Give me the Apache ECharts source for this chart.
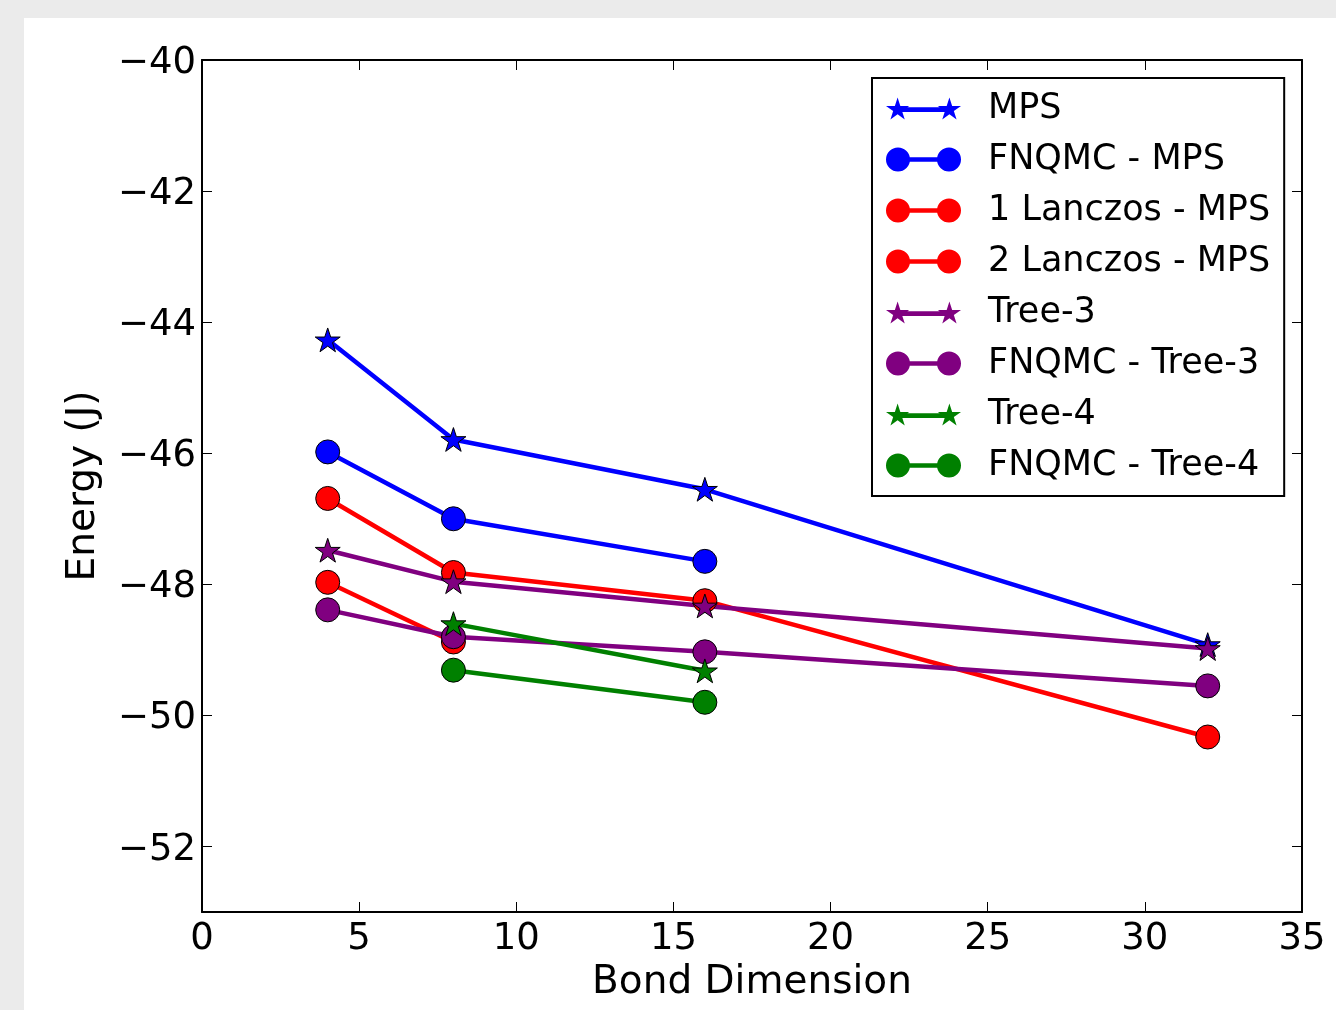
<!DOCTYPE html>
<html>
<head>
<meta charset="utf-8">
<script src="https://cdn.jsdelivr.net/npm/echarts@6/dist/echarts.min.js"></script>
<style>
html,body{margin:0;padding:0;background:#ebebeb;}
#chart{width:1336px;height:1010px;}
</style>
</head>
<body>
<div id="chart"></div>
<script>
// ---- data ----
const seriesNames = ['MPS','FNQMC - MPS','1 Lanczos - MPS','2 Lanczos - MPS','Tree-3','FNQMC - Tree-3','Tree-4','FNQMC - Tree-4'];
const mps          = [[4,-44.27],[8,-45.79],[16,-46.55],[32,-48.92]];
const fnqmcMps     = [[4,-45.98],[8,-47.00],[16,-47.65]];
const lanczos1Mps  = [[4,-46.69],[8,-47.82],[16,-48.25],[32,-50.33]];
const lanczos2Mps  = [[4,-47.97],[8,-48.88]];
const tree3        = [[4,-47.48],[8,-47.96],[16,-48.33],[32,-48.98]];
const fnqmcTree3   = [[4,-48.39],[8,-48.80],[16,-49.03],[32,-49.55]];
const tree4        = [[8,-48.60],[16,-49.32]];
const fnqmcTree4   = [[8,-49.31],[16,-49.80]];
const xTicks = [0,5,10,15,20,25,30,35];
const yTicks = [-52,-50,-48,-46,-44,-42,-40];

// ---- symbols ----
function starPts(cx, cy, R){
  const pts=[];
  for(let i=0;i<10;i++){
    const a=(-90+i*36)*Math.PI/180;
    const r = i%2===0 ? R : R*0.382;
    pts.push((cx+r*Math.cos(a)).toFixed(2)+','+(cy+r*Math.sin(a)).toFixed(2));
  }
  return 'M'+pts.join('L')+'Z';
}
const STAR = 'path://' + starPts(50,50,50);
const CIRCLE_ICON = 'path://M0,12A12,12,0,1,1,24,12A12,12,0,1,1,0,12Z M22,9.7L53,9.7L53,14.3L22,14.3Z M51,12A12,12,0,1,1,75,12A12,12,0,1,1,51,12Z';
const STAR_ICON = 'path://' + starPts(12,12,12) + ' M14,9.7L61,9.7L61,14.3L14,14.3Z ' + starPts(63,12,12);

const colors = ['#0000ff','#0000ff','#ff0000','#ff0000','#800080','#800080','#008000','#008000'];
const datas = [mps,fnqmcMps,lanczos1Mps,lanczos2Mps,tree3,fnqmcTree3,tree4,fnqmcTree4];
const isStar = [true,false,false,false,true,false,true,false];

const series = seriesNames.map((n,i)=>({
  name:n, type:'line', data:datas[i],
  xAxisIndex:0, yAxisIndex:0,
  symbol: isStar[i] ? STAR : 'circle',
  symbolSize: isStar[i] ? 25 : 24,
  symbolKeepAspect:true,
  showAllSymbol:true,
  lineStyle:{color:colors[i], width:4.5},
  itemStyle:{color:colors[i], borderColor:'#000', borderWidth:1},
  emphasis:{disabled:true},
  animation:false
}));

const fontFam = 'DejaVu Sans';
const minus = v => '{a|' + (v<0?'\u2212':'') + Math.abs(v) + '}';

const chart = echarts.init(document.getElementById('chart'));
chart.setOption({
  backgroundColor:'#ebebeb',
  animation:false,
  graphic:[{type:'rect', z:-10, silent:true, shape:{x:24,y:18,width:1320,height:1000}, style:{fill:'#ffffff'}}],
  textStyle:{fontFamily:fontFam},
  grid:{left:202, top:60, right:34, bottom:98, containLabel:false},
  legend:{
    orient:'vertical', left:872, top:78,
    data: seriesNames.map((n,i)=>({name:n, icon: isStar[i] ? STAR_ICON : CIRCLE_ICON})),
    itemWidth:75, itemHeight:24, itemGap:16,
    padding:[13,14,13,14],
    borderColor:'#000', borderWidth:2, borderRadius:0,
    backgroundColor:'#fff',
    itemStyle:{borderWidth:0},
    textStyle:{fontSize:35, color:'#000', fontFamily:fontFam, padding:[0,0,0,22]},
    selectedMode:false
  },
  xAxis:[{
    type:'value', min:0, max:35, interval:5, position:'bottom',
    name:'Bond Dimension', nameLocation:'middle', nameGap:49,
    nameTextStyle:{fontSize:39, color:'#000', fontFamily:fontFam},
    axisLine:{show:true, onZero:false, lineStyle:{color:'#000', width:2}},
    axisTick:{show:true, inside:true, length:10, lineStyle:{color:'#000', width:1}},
    axisLabel:{fontSize:37, color:'#000', margin:9, fontFamily:fontFam},
    splitLine:{show:false}
  },{
    type:'value', min:0, max:35, interval:5, position:'top',
    axisLine:{show:true, onZero:false, lineStyle:{color:'#000', width:2}},
    axisTick:{show:true, inside:true, length:10, lineStyle:{color:'#000', width:1}},
    axisLabel:{show:false}, splitLine:{show:false}
  }],
  yAxis:[{
    type:'value', min:-53, max:-40, position:'left',
    name:'Energy (J)', nameLocation:'middle', nameGap:99, nameRotate:90,
    nameTextStyle:{fontSize:39, color:'#000', fontFamily:fontFam},
    axisLine:{show:true, onZero:false, lineStyle:{color:'#000', width:2}},
    axisTick:{show:true, inside:true, length:10, customValues:yTicks, lineStyle:{color:'#000', width:1}},
    axisLabel:{fontSize:37, color:'#000', margin:6, customValues:yTicks, formatter:minus, fontFamily:fontFam,
      rich:{a:{fontSize:37, color:'#000', fontFamily:fontFam, padding:[7,0,0,0]}}},
    splitLine:{show:false}
  },{
    type:'value', min:-53, max:-40, position:'right',
    axisLine:{show:true, onZero:false, lineStyle:{color:'#000', width:2}},
    axisTick:{show:true, inside:true, length:10, customValues:yTicks, lineStyle:{color:'#000', width:1}},
    axisLabel:{show:false, customValues:yTicks}, splitLine:{show:false}
  }],
  series: series
});
</script>
</body>
</html>
